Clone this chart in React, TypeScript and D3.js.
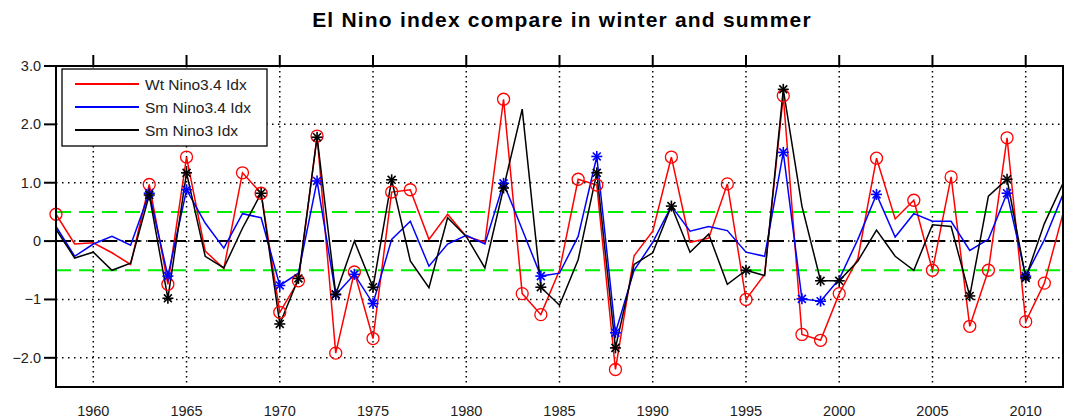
import React from "react";
import * as d3 from "d3";

const years: number[] = d3.range(1958, 2013);

const wtNino34: number[] = [
  0.46, -0.05, -0.03, -0.2, -0.4, 0.97, -0.74, 1.44, -0.17, -0.47,
  1.17, 0.82, -1.22, -0.68, 1.8, -1.92, -0.53, -1.67, 0.84, 0.88,
  0.03, 0.46, 0.08, -0.02, 2.43, -0.9, -1.26, -0.5, 1.06, 0.96,
  -2.2, -0.25, 0.17, 1.44, -0.02, 0.05, 0.98, -1.0, -0.57, 2.49,
  -1.6, -1.7, -0.9, -0.3, 1.42, 0.38, 0.7, -0.5, 1.1, -1.46,
  -0.5, 1.77, -1.38, -0.72, 0.47,
];

const smNino34: number[] = [
  0.25, -0.26, -0.05, 0.08, -0.07, 0.82, -0.6, 0.88, 0.31, -0.12,
  0.47, 0.4, -0.76, -0.55, 1.03, -0.92, -0.57, -1.07, 0.03, 0.34,
  -0.43, -0.05, 0.1, -0.05, 0.99, 0.2, -0.6, -0.55, 0.08, 1.45,
  -1.57, -0.5, -0.02, 0.6, 0.17, 0.25, 0.18, -0.19, -0.26, 1.52,
  -0.99, -1.03, -0.65, 0.03, 0.8, 0.07, 0.47, 0.34, 0.34, -0.16,
  0.03, 0.82, -0.6, 0.02, 0.8,
];

const smNino3: number[] = [
  0.2, -0.29, -0.19, -0.5, -0.38, 0.79, -0.98, 1.17, -0.26, -0.46,
  0.22, 0.82, -1.42, -0.64, 1.78, -0.91, 0.0, -0.79, 1.05, -0.34,
  -0.8, 0.4, 0.08, -0.46, 0.91, 2.26, -0.79, -1.1, -0.32, 1.17,
  -1.83, -0.4, -0.2, 0.6, -0.19, 0.12, -0.74, -0.5, -0.59, 2.6,
  0.6, -0.68, -0.68, -0.34, 0.19, -0.26, -0.5, 0.28, 0.25, -0.94,
  0.77, 1.06, -0.63, 0.3, 0.99,
];

const wtMarkYears: number[] = [
  1958, 1963, 1964, 1965, 1968, 1969, 1970, 1971, 1972, 1973, 1974, 1975,
  1976, 1977, 1982, 1983, 1984, 1986, 1987, 1988, 1991, 1994, 1995, 1997,
  1998, 1999, 2000, 2002, 2004, 2005, 2006, 2007, 2008, 2009, 2010, 2011,
];
const sm34MarkYears: number[] = [
  1963, 1964, 1965, 1970, 1972, 1973, 1974, 1975, 1982, 1984, 1987, 1988,
  1997, 1998, 1999, 2002, 2009, 2010,
];
const sm3MarkYears: number[] = [
  1963, 1964, 1965, 1969, 1970, 1971, 1972, 1973, 1975, 1976, 1982, 1984,
  1987, 1988, 1991, 1995, 1997, 1999, 2000, 2007, 2009, 2010,
];

const xTicks: number[] = [1960, 1965, 1970, 1975, 1980, 1985, 1990, 1995, 2000, 2005, 2010];
const yTicks: number[] = [3, 2, 1, 0, -1, -2];
const yTickLabels: string[] = ["3.0", "2.0", "1.0", "0", "\u22121", "\u22122.0"];
const thresholds: number[] = [0.5, -0.5];

const title = "El Nino index compare in winter and summer";
const legendLabels: string[] = ["Wt Nino3.4 Idx", "Sm Nino3.4 Idx", "Sm Nino3 Idx"];

const W = 1067;
const H = 419;
const L = 56;
const R = 1063;
const T = 66;
const B = 387;

const x = d3.scaleLinear().domain([1958, 2012]).range([L, R]);
const y = d3.scaleLinear().domain([-2.5, 3.0]).range([B, T]);

const line = d3
  .line<[number, number]>()
  .x((d) => x(d[0]))
  .y((d) => y(d[1]));

const FONT = "'Liberation Sans', Arial, sans-serif";

function Asterisk({ cx, cy, color }: { cx: number; cy: number; color: string }) {
  const r = 5.5;
  const d2 = r * 0.72;
  return (
    <g stroke={color} strokeWidth={1.6}>
      <line x1={cx - r} y1={cy} x2={cx + r} y2={cy} />
      <line x1={cx} y1={cy - r} x2={cx} y2={cy + r} />
      <line x1={cx - d2} y1={cy - d2} x2={cx + d2} y2={cy + d2} />
      <line x1={cx - d2} y1={cy + d2} x2={cx + d2} y2={cy - d2} />
    </g>
  );
}

export default function App() {
  const series = [
    { values: wtNino34, color: "#ff0000", marks: wtMarkYears, marker: "circle" },
    { values: smNino34, color: "#0000ff", marks: sm34MarkYears, marker: "star" },
    { values: smNino3, color: "#000000", marks: sm3MarkYears, marker: "star" },
  ];

  return (
    <svg
      width={W}
      height={H}
      style={{ position: "fixed", left: 0, top: 0, background: "#fff" }}
      fontFamily={FONT}
    >
      <rect x={0} y={0} width={W} height={H} fill="#fff" />
      <text
        x={562}
        y={27}
        textAnchor="middle"
        fontSize={21}
        fontWeight="bold"
        letterSpacing={1.2}
        fill="#000"
      >
        {title}
      </text>

      <defs>
        <clipPath id="plotclip">
          <rect x={L} y={T} width={R - L} height={B - T} />
        </clipPath>
      </defs>

      {/* grid */}
      {xTicks.map((t) => (
        <line
          key={"gx" + t}
          x1={x(t)}
          x2={x(t)}
          y1={T}
          y2={B}
          stroke="#000"
          strokeWidth={1.5}
          strokeDasharray="1.5,3.5"
        />
      ))}
      {yTicks
        .filter((t) => t !== 3)
        .map((t) => (
          <line
            key={"gy" + t}
            x1={L}
            x2={R}
            y1={y(t)}
            y2={y(t)}
            stroke="#000"
            strokeWidth={1.5}
            strokeDasharray="1.5,4.5"
          />
        ))}

      {/* reference lines */}
      {thresholds.map((t) => (
        <line
          key={"th" + t}
          x1={L}
          x2={R}
          y1={y(t)}
          y2={y(t)}
          stroke="#00ee00"
          strokeWidth={2}
          strokeDasharray="15,8"
        />
      ))}
      <line
        x1={L}
        x2={R}
        y1={y(0)}
        y2={y(0)}
        stroke="#000"
        strokeWidth={2}
        strokeDasharray="15,8"
      />

      {/* series */}
      <g clipPath="url(#plotclip)">
        {series.map((s, i) => (
          <path
            key={"l" + i}
            d={line(years.map((yr, j) => [yr, s.values[j]]) as [number, number][]) || ""}
            fill="none"
            stroke={s.color}
            strokeWidth={1.5}
          />
        ))}
      </g>
      {series.map((s, i) => (
        <g key={"m" + i}>
          {s.marks.map((yr) => {
            const v = s.values[years.indexOf(yr)];
            return s.marker === "circle" ? (
              <circle
                key={yr}
                cx={x(yr)}
                cy={y(v)}
                r={6}
                fill="none"
                stroke={s.color}
                strokeWidth={1.3}
              />
            ) : (
              <Asterisk key={yr} cx={x(yr)} cy={y(v)} color={s.color} />
            );
          })}
        </g>
      ))}

      {/* frame */}
      <rect x={L} y={T} width={R - L} height={B - T} fill="none" stroke="#000" strokeWidth={2} />
      {xTicks.map((t) => (
        <line key={"tt" + t} x1={x(t)} x2={x(t)} y1={T - 11} y2={T} stroke="#000" strokeWidth={2} />
      ))}
      {yTicks.map((t) => (
        <line key={"ty" + t} x1={L - 12} x2={L} y1={y(t)} y2={y(t)} stroke="#000" strokeWidth={2} />
      ))}
      {yTicks.map((t, i) => (
        <text
          key={"yl" + t}
          x={41}
          y={y(t) + 5}
          textAnchor="end"
          fontSize={14.5}
          fill="#222"
        >
          {yTickLabels[i]}
        </text>
      ))}
      {xTicks.map((t) => (
        <text key={"xl" + t} x={x(t)} y={416} textAnchor="middle" fontSize={14.5} fill="#222">
          {t}
        </text>
      ))}

      {/* legend */}
      <rect x={62} y={69} width={205} height={77} fill="#fff" stroke="#000" strokeWidth={1.3} />
      {legendLabels.map((lab, i) => {
        const ly = 84 + i * 23;
        return (
          <g key={"lg" + i}>
            <line x1={75} x2={139} y1={ly} y2={ly} stroke={series[i].color} strokeWidth={2} />
            <text x={145} y={ly + 5.5} fontSize={15.5} fill="#222">
              {lab}
            </text>
          </g>
        );
      })}
    </svg>
  );
}
